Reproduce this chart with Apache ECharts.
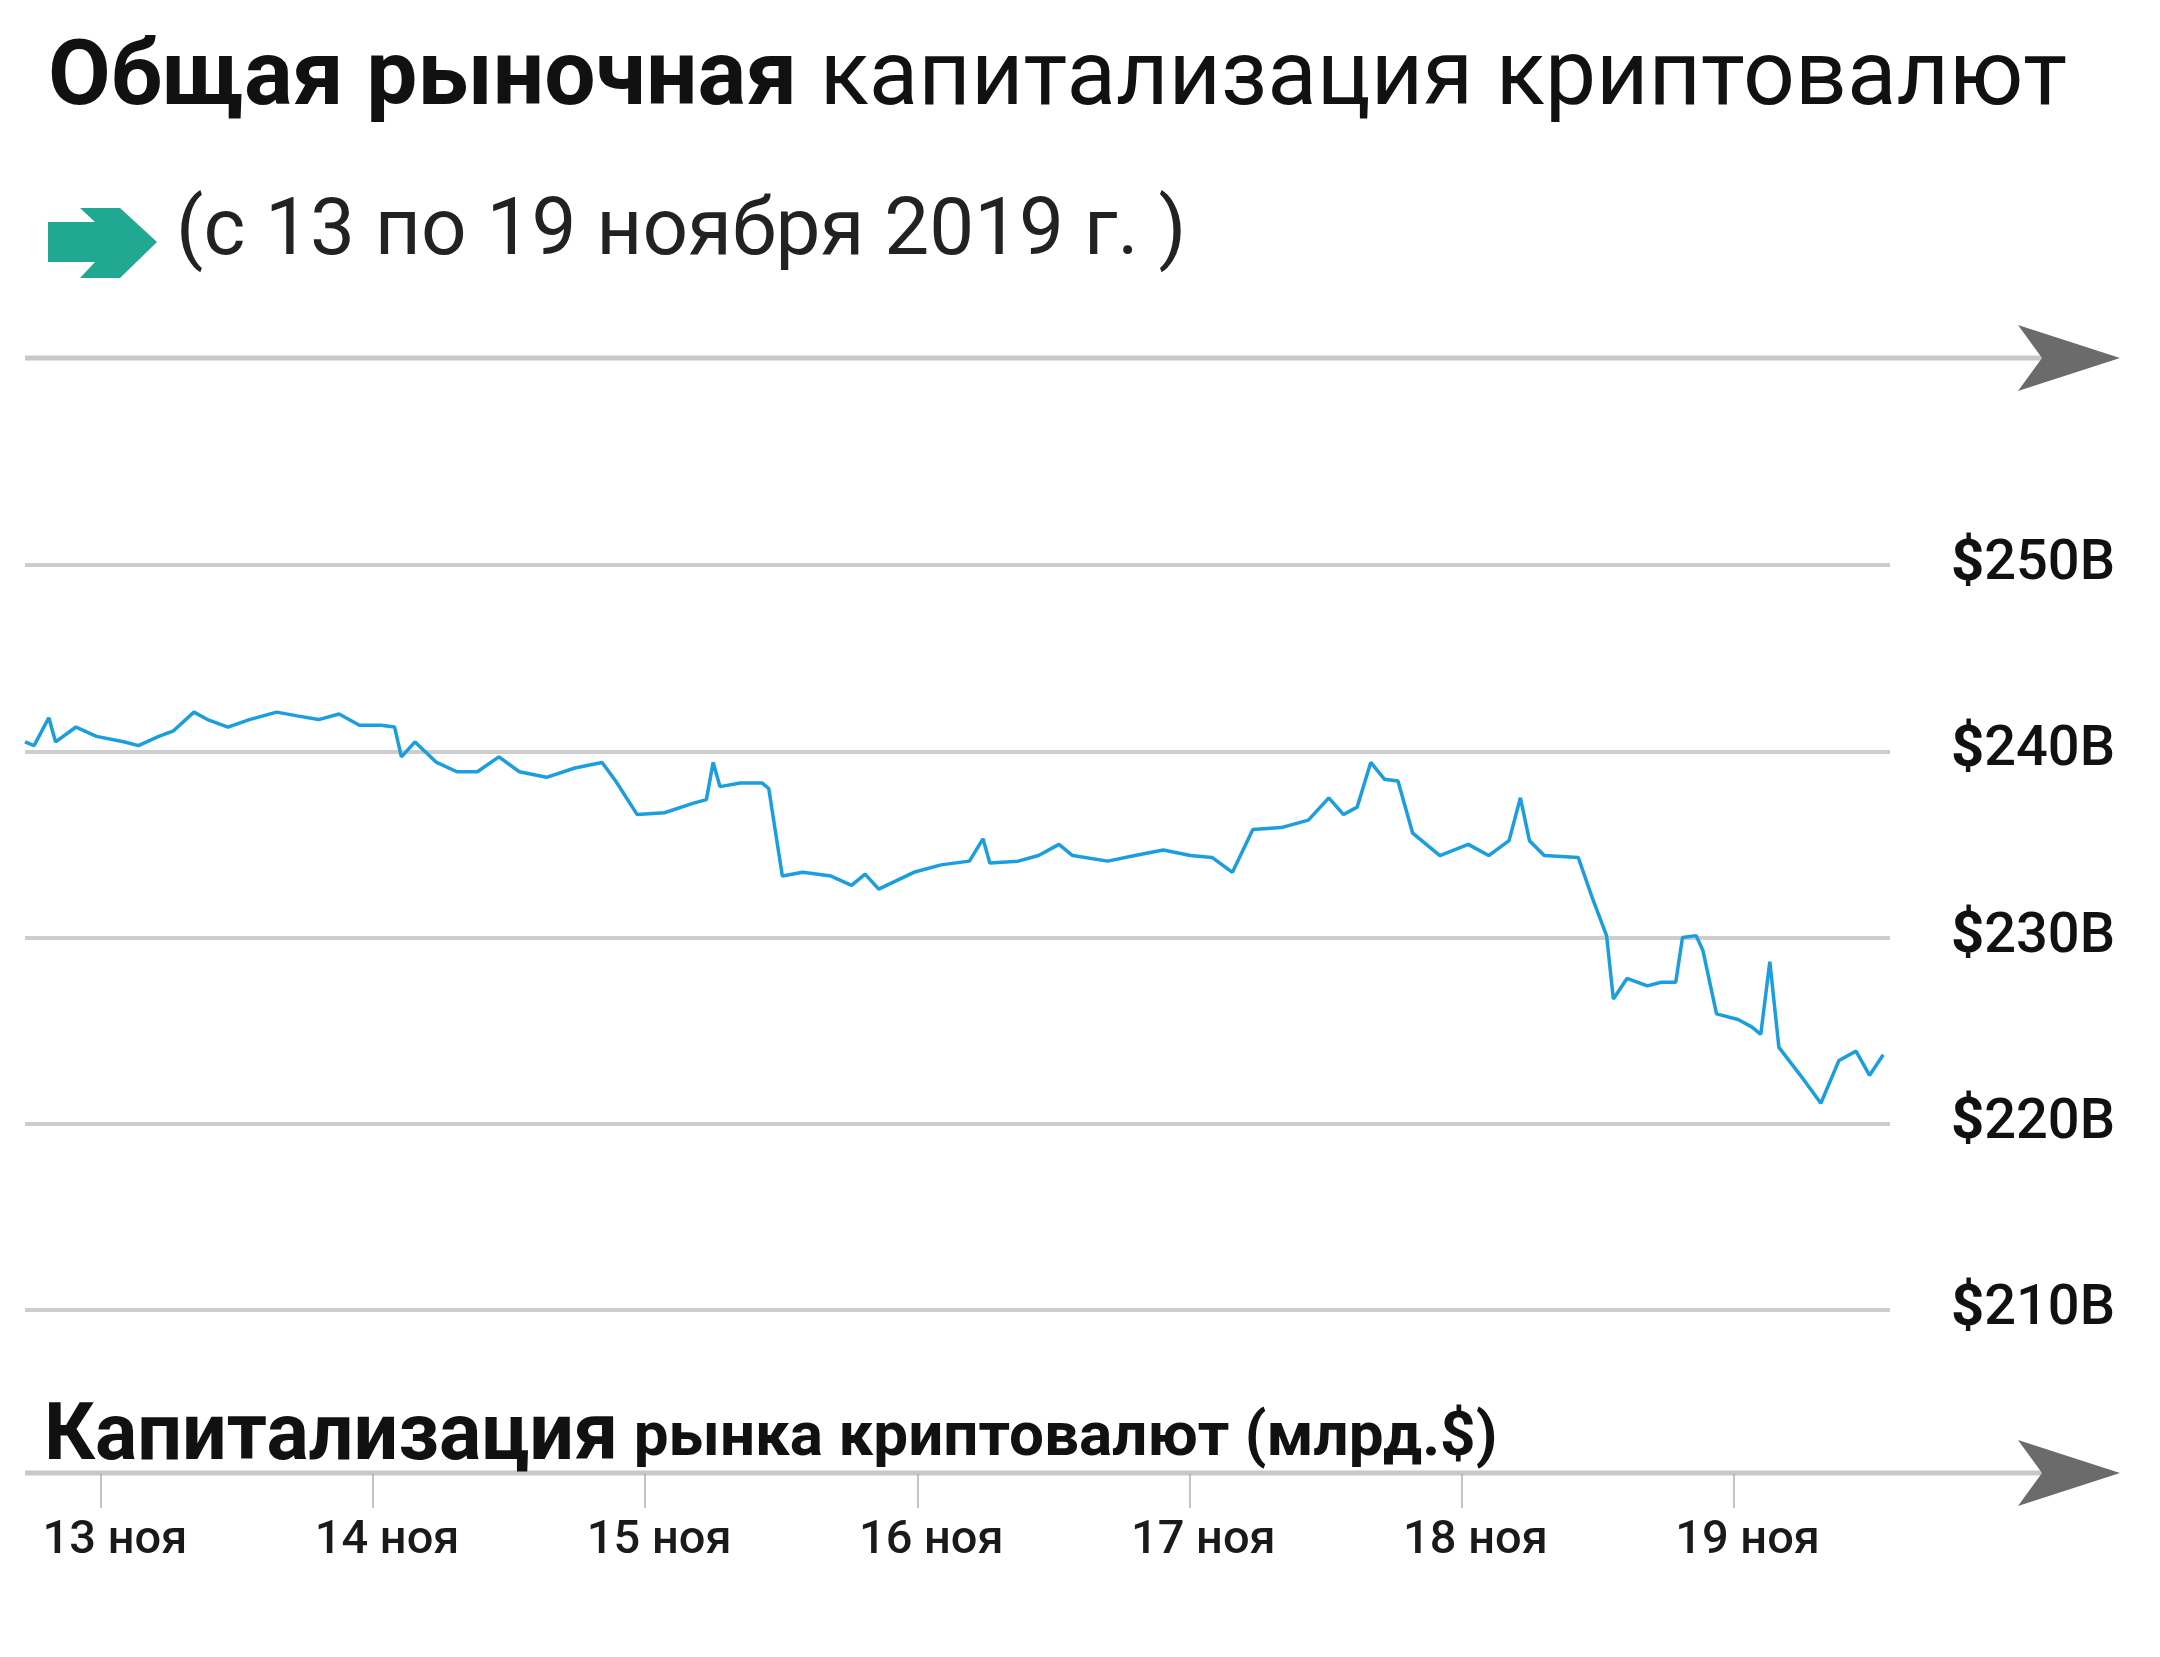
<!DOCTYPE html>
<html><head><meta charset="utf-8">
<script src="https://cdn.jsdelivr.net/npm/echarts@6/dist/echarts.min.js"></script>
<style>html,body{margin:0;padding:0;background:#fff}#c{width:2160px;height:1657px}</style>
</head><body><div id="c"></div>
<script>
// hours since 13 Nov 2019 00:00
const hours = [-6.7,-5.9,-4.6,-4.0,-2.2,-0.4,2.1,3.3,5.1,6.4,8.2,9.4,11.2,13.1,15.5,17.3,19.2,21.0,22.8,24.7,25.9,26.5,27.7,29.6,31.4,33.2,35.1,36.9,39.3,41.8,44.2,45.4,47.3,49.7,52.2,53.4,54.0,54.6,56.4,58.3,58.9,60.1,61.9,64.4,66.2,67.4,68.6,71.7,74.1,76.6,77.8,78.4,80.9,82.7,84.5,85.7,88.8,91.2,93.7,96.1,98.0,99.8,101.6,104.1,106.5,108.3,109.6,110.8,112.0,113.2,114.4,115.7,118.1,120.6,122.4,124.2,125.2,126.0,127.3,130.3,131.5,132.8,133.4,134.6,136.4,137.6,138.9,139.5,140.7,141.3,142.5,144.4,145.6,146.4,147.2,148.0,149.9,151.7,153.3,154.8,156.0,157.2];
const caps = [240.5,240.3,241.8,240.5,241.3,240.8,240.5,240.3,240.8,241.1,242.1,241.7,241.3,241.7,242.1,241.9,241.7,242.0,241.4,241.4,241.3,239.7,240.5,239.4,238.9,238.9,239.7,238.9,238.6,239.1,239.4,238.4,236.6,236.7,237.2,237.4,239.4,238.1,238.3,238.3,238.0,233.3,233.5,233.3,232.8,233.4,232.6,233.5,233.9,234.1,235.3,234.0,234.1,234.4,235.0,234.4,234.1,234.4,234.7,234.4,234.3,233.5,235.8,235.9,236.3,237.5,236.6,237.0,239.4,238.5,238.4,235.6,234.4,235.0,234.4,235.2,237.5,235.2,234.4,234.3,232.2,230.1,226.7,227.8,227.4,227.6,227.6,230.0,230.1,229.3,225.9,225.6,225.2,224.8,228.7,224.1,222.6,221.1,223.4,223.9,222.6,223.7];
const dayTicks = [0,24,48,72,96,120,144];
const dayLabels = ['13 ноя','14 ноя','15 ноя','16 ноя','17 ноя','18 ноя','19 ноя'];
const yTicks = [210,220,230,240,250];

const chart = echarts.init(document.getElementById('c'));
const FF = 'Roboto, "Noto Sans", sans-serif';
const xMin = -6.7, xMax = 157.8;
function arrow(y){
  return [
    {type:'line',shape:{x1:25,y1:y,x2:2060,y2:y},style:{stroke:'#c8c8c8',lineWidth:5}},
    {type:'polygon',shape:{points:[[2018,y-33],[2120,y],[2018,y+33],[2042,y]]},style:{fill:'#6b6b6b'}}
  ];
}
chart.setOption({
  animation:false,
  backgroundColor:'#fff',
  grid:[{left:25,right:270,top:565,bottom:347},{left:25,right:270,top:1473,height:1}],
  xAxis:[
    {type:'value',gridIndex:0,min:xMin,max:xMax,show:false},
    {type:'value',gridIndex:1,min:xMin,max:xMax,axisLine:{show:false},splitLine:{show:false},
     axisTick:{show:true,length:34,lineStyle:{color:'#b0b0b0',width:1.5},customValues:dayTicks},
     axisLabel:{customValues:dayTicks,margin:44,fontFamily:FF,fontSize:47,fontWeight:500,color:'#1a1a1a',
       formatter:v=>dayLabels[dayTicks.indexOf(Math.round(v))]||'',padding:[0,0,0,28]}}
  ],
  yAxis:[
    {type:'value',gridIndex:0,min:210,max:250,interval:10,position:'right',
     axisLine:{show:false},axisTick:{show:false},
     splitLine:{lineStyle:{color:'#cdcdcd',width:4}},
     axisLabel:{align:'right',margin:225,fontFamily:FF,fontSize:56,fontWeight:500,color:'#111',
       formatter:v=>'{b|$}'+v+'B',rich:{b:{fontWeight:'bold',fontSize:58,fontFamily:FF,color:'#111'}}}},
    {type:'value',gridIndex:1,show:false}
  ],
  series:[{type:'line',xAxisIndex:0,yAxisIndex:0,showSymbol:false,
    data:hours.map((h,i)=>[h,caps[i]]),
    lineStyle:{color:'#1a9ee0',width:3.5}}],
  graphic:[
    {type:'text',left:48,top:36,style:{text:'{b|Общая рыночная}{r|\u00a0капитализация криптовалют}',
      rich:{b:{fontFamily:FF,fontWeight:'bold',fontSize:91,fill:'#111'},r:{fontFamily:FF,fontSize:91,fill:'#111'}}}},
    {type:'polygon',shape:{points:[[48,222],[95,222],[80,208],[120,208],[157,242],[120,278],[80,278],[95,262],[48,262]]},style:{fill:'#21a893'}},
    {type:'text',left:176,top:194,style:{text:'(с 13 по 19 ноября 2019 г. )',fontFamily:FF,fontSize:80,fill:'#222'}},
    ...arrow(358),
    ...arrow(1473),
    {type:'text',left:44,top:1400,style:{text:'{b|Капитализация}{r|\u00a0рынка криптовалют (млрд.$)}',
      rich:{b:{fontFamily:FF,fontWeight:'bold',fontSize:79,fill:'#111'},r:{fontFamily:FF,fontWeight:'bold',fontSize:62,fill:'#111'}}}}
  ]
});
</script></body></html>
